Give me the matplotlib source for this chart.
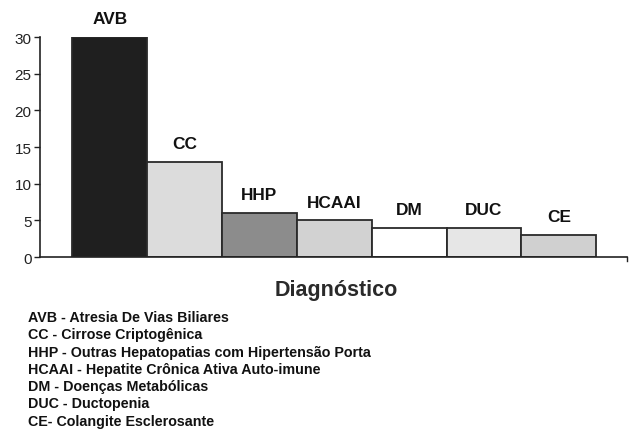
import matplotlib

matplotlib.use("Agg")
import matplotlib.pyplot as plt

plt.rcParams["font.family"] = ["Liberation Sans", "DejaVu Sans"]

categories = ["AVB", "CC", "HHP", "HCAAI", "DM", "DUC", "CE"]
values = [30, 13, 6, 5, 4, 4, 3]
colors = ["#1f1f1f", "#dcdcdc", "#8c8c8c", "#d2d2d2", "#ffffff", "#e6e6e6", "#d0d0d0"]
yticks = [0, 5, 10, 15, 20, 25, 30]
legend_lines = [
    "AVB - Atresia De Vias Biliares",
    "CC - Cirrose Criptogênica",
    "HHP - Outras Hepatopatias com Hipertensão Porta",
    "HCAAI - Hepatite Crônica Ativa Auto-imune",
    "DM - Doenças Metabólicas",
    "DUC - Ductopenia",
    "CE- Colangite Esclerosante",
]

W, H = 629, 431
fig = plt.figure(figsize=(W / 100, H / 100), dpi=100)
ax = fig.add_axes([40 / W, (H - 258) / H, (627 - 40) / W, 220 / H])

x = list(range(len(categories)))
ax.bar(x, values, width=1.0, color=colors, edgecolor="#2a2a2a", linewidth=1.3, zorder=2)
for xi, v, lab in zip(x, values, categories):
    ax.annotate(lab, (xi, v), xytext=(0, 13), textcoords="offset points",
                ha="center", va="center", fontsize=12.4, fontweight="bold", color="#111111",
                annotation_clip=False)

ax.set_xlim(-0.93, 6.91)
ax.set_ylim(0, 30)
ax.set_yticks(yticks)
ax.set_xticks([])
ax.tick_params(axis="y", length=4, width=1, labelsize=11, colors="#222222", pad=2)
for s in ["top", "right"]:
    ax.spines[s].set_visible(False)
for s in ["left", "bottom"]:
    ax.spines[s].set_color("#222222")
    ax.spines[s].set_linewidth(1.2)
ax.spines["bottom"].set_zorder(3)
# small tick at right end of x axis
ax.plot([6.91, 6.91], [0, -0.6], color="#222222", lw=1, clip_on=False)

fig.text(336 / W, 1 - 291 / H, "Diagnóstico", ha="center", va="center", fontsize=15.5,
         fontweight="bold", color="#2a2a2a")
for i, line in enumerate(legend_lines):
    fig.text(28 / W, 1 - (318 + i * 17.3) / H, line, ha="left", va="center",
             fontsize=10.3, fontweight="bold", color="#111111")

fig.savefig("out.png", dpi=100, facecolor="white")
